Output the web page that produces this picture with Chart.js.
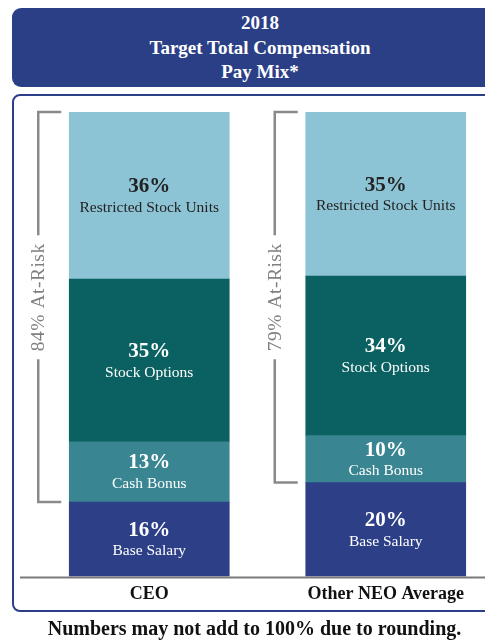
<!DOCTYPE html>
<html>
<head>
<meta charset="utf-8">
<script src="https://cdn.jsdelivr.net/npm/chart.js@4/dist/chart.umd.min.js"></script>
<style>
  html, body { margin: 0; padding: 0; background: #fff; overflow: hidden; }
  body { width: 485px; height: 642px; position: relative; font-family: "Liberation Serif", serif; }
  .title {
    position: absolute; left: 12px; top: 8px; width: 500px; height: 79px;
    background: #2b3f87; border-radius: 9px; color: #fff;
    font-weight: bold; font-size: 19px; line-height: 24.5px;
    box-sizing: border-box; padding-top: 3px;
  }
  .title div { width: 496px; text-align: center; }
  .frame {
    position: absolute; left: 12px; top: 94px; width: 500px; height: 518px;
    border: 2px solid #2b3f87; border-radius: 8px; box-sizing: border-box;
  }
  .note {
    position: absolute; left: 12px; top: 617px; width: 485px; text-align: center;
    font-weight: bold; font-size: 20px; color: #111; white-space: nowrap;
  }
  #wrap { position: absolute; left: 0; top: 0; width: 520px; height: 642px; }
</style>
</head>
<body>
<div class="title"><div>2018</div><div>Target Total Compensation</div><div>Pay Mix*</div></div>
<div class="frame"></div>
<div id="wrap"><canvas id="payMix"></canvas></div>
<div class="note">Numbers may not add to 100% due to rounding.</div>
<script>
// pay mix data
const categories = ['CEO', 'Other NEO Average'];
const components = ['Base Salary', 'Cash Bonus', 'Stock Options', 'Restricted Stock Units'];
const baseSalary = [16, 20];
const cashBonus = [13, 10];
const stockOptions = [35, 34];
const rsu = [36, 35];

const seriesValues = [baseSalary, cashBonus, stockOptions, rsu];
const colors = ['#2c3f87', '#3a8592', '#0b6161', '#8dc4d5'];
const textColors = ['#fff', '#fff', '#fff', '#222'];

// each bar fills the full height (totals are rounded)
const totals = categories.map((c, i) => seriesValues.reduce((s, arr) => s + arr[i], 0));
const atRisk = categories.map((c, i) => cashBonus[i] + stockOptions[i] + rsu[i]);

const segmentLabels = {
  id: 'segmentLabels',
  afterDatasetsDraw(chart) {
    const ctx = chart.ctx;
    ctx.save();
    ctx.textAlign = 'center';
    ctx.textBaseline = 'middle';
    chart.data.datasets.forEach((ds, di) => {
      chart.getDatasetMeta(di).data.forEach((bar, i) => {
        const mid = (bar.y + bar.base) / 2;
        ctx.fillStyle = textColors[di];
        ctx.font = 'bold 21px "Liberation Serif"';
        ctx.fillText(ds.raw[i] + '%', bar.x, mid - 9);
        ctx.font = '15.5px "Liberation Serif"';
        ctx.fillText(ds.label, bar.x, mid + 12);
      });
    });
    ctx.restore();
  }
};

const brackets = {
  id: 'brackets',
  afterDatasetsDraw(chart) {
    const ctx = chart.ctx;
    const y = chart.scales.y;
    const baseMeta = chart.getDatasetMeta(0);
    const top = y.getPixelForValue(100);
    // both labels sit at the same height
    const textY = Math.min(...baseMeta.data.map(b => (top + b.y) / 2));
    ctx.save();
    // baseline
    ctx.strokeStyle = '#7a7a7a';
    ctx.lineWidth = 2;
    ctx.beginPath();
    ctx.moveTo(20, y.getPixelForValue(0) + 1);
    ctx.lineTo(chart.width, y.getPixelForValue(0) + 1);
    ctx.stroke();

    baseMeta.data.forEach((bar, i) => {
      const left = bar.x - bar.width / 2;
      const lx = left - 31;
      const tx = left - 8;
      const bottom = bar.y;
      const label = atRisk[i] + '% At-Risk';
      ctx.font = '19.5px "Liberation Serif"';
      ctx.letterSpacing = '0.5px';
      const half = ctx.measureText(label).width / 2 + 8;
      ctx.strokeStyle = '#8a8a8a';
      ctx.lineWidth = 2.5;
      ctx.beginPath();
      ctx.moveTo(tx, top);
      ctx.lineTo(lx, top);
      ctx.lineTo(lx, textY - half);
      ctx.moveTo(lx, textY + half);
      ctx.lineTo(lx, bottom);
      ctx.lineTo(tx, bottom);
      ctx.stroke();
      ctx.translate(lx, textY);
      ctx.rotate(-Math.PI / 2);
      ctx.fillStyle = '#808080';
      ctx.textAlign = 'center';
      ctx.textBaseline = 'middle';
      ctx.fillText(label, 0, 1);
      ctx.setTransform(1, 0, 0, 1, 0, 0);
      ctx.letterSpacing = '0px';
    });
    ctx.restore();
  }
};

new Chart(document.getElementById('payMix'), {
  type: 'bar',
  data: {
    labels: categories,
    datasets: components.map((name, k) => ({
      label: name,
      raw: seriesValues[k],
      data: seriesValues[k].map((v, i) => v / totals[i] * 100),
      backgroundColor: colors[k],
      borderWidth: 0,
      barThickness: 160
    }))
  },
  options: {
    responsive: true,
    maintainAspectRatio: false,
    animation: false,
    layout: { padding: { left: 31, right: 16, top: 112, bottom: 30 } },
    plugins: { legend: { display: false }, tooltip: { enabled: false } },
    scales: {
      x: {
        stacked: true,
        grid: { display: false, drawTicks: false },
        border: { display: false },
        ticks: { color: '#111', padding: 7, font: { family: 'Liberation Serif', size: 18, weight: 'bold' } }
      },
      y: { stacked: true, display: false, min: 0, max: 100 }
    }
  },
  plugins: [segmentLabels, brackets]
});
</script>
</body>
</html>
